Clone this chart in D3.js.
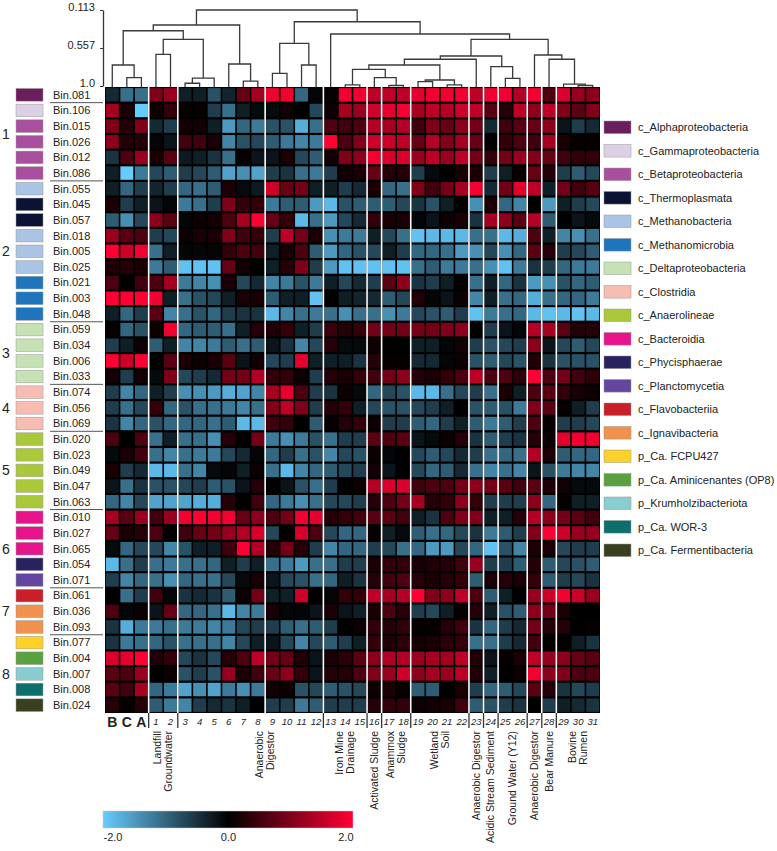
<!DOCTYPE html>
<html>
<head>
<meta charset="utf-8">
<script src="https://cdn.jsdelivr.net/npm/d3@7"></script>
<style>
  body { margin: 0; background: #fff; }
  svg { display: block; font-family: "Liberation Sans", Arial, sans-serif; }
</style>
</head>
<body>
<svg id="chart" width="777" height="851"></svg>
<script>
// columns of the heatmap (samples)
const columns = ["B","C","A","1","2","3","4","5","6","7","8","9","10","11","12","13","14","15",
  "16","17","18","19","20","21","22","23","24","25","26","27","28","29","30","31"];

// rows of the heatmap (bins)
const bins = ["Bin.081","Bin.106","Bin.015","Bin.026","Bin.012","Bin.086","Bin.055","Bin.045","Bin.057",
  "Bin.018","Bin.005","Bin.025","Bin.021","Bin.003","Bin.048","Bin.059","Bin.034","Bin.006","Bin.033",
  "Bin.074","Bin.056","Bin.069","Bin.020","Bin.023","Bin.049","Bin.047","Bin.063","Bin.010","Bin.027",
  "Bin.065","Bin.054","Bin.071","Bin.061","Bin.036","Bin.093","Bin.077","Bin.004","Bin.007","Bin.008","Bin.024"];

// taxonomy classes (legend) and colours
const classes = ["c_Alphaproteobacteria","c_Gammaproteobacteria","c_Betaproteobacteria","c_Thermoplasmata",
  "c_Methanobacteria","c_Methanomicrobia","c_Deltaproteobacteria","c_Clostridia","c_Anaerolineae",
  "c_Bacteroidia","c_Phycisphaerae","c_Planctomycetia","c_Flavobacteriia","c_Ignavibacteria",
  "p_Ca. FCPU427","p_Ca. Aminicenantes (OP8)","p_Krumholzibacteriota","p_Ca. WOR-3","p_Ca. Fermentibacteria"];
const classColors = ["#6b1d5e","#dcd0e6","#a8509f","#0b1233","#a9c4e4","#1f75bd","#c6e2b4","#f7bdb3",
  "#a9c93a","#e6138a","#28225f","#6446a0","#c8202a","#f0924d","#fcd22a","#58a040","#88cdd0","#0e6e6c","#384020"];

// class of each bin (by index into classes)
const binClass = [0,1,2,2,2,2,4,3,3,4,4,4,5,5,5,6,6,6,6,7,7,7,8,8,8,8,8,9,9,9,10,11,12,13,13,14,15,16,17,18];

// row groups (number on the left) and rules under rows
const rowGroups = [
  {label: "1", from: "Bin.081", to: "Bin.086"},
  {label: "2", from: "Bin.055", to: "Bin.048"},
  {label: "3", from: "Bin.059", to: "Bin.033"},
  {label: "4", from: "Bin.074", to: "Bin.069"},
  {label: "5", from: "Bin.020", to: "Bin.063"},
  {label: "6", from: "Bin.010", to: "Bin.071"},
  {label: "7", from: "Bin.061", to: "Bin.093"},
  {label: "8", from: "Bin.077", to: "Bin.024"}
];
const ruleAfter = ["Bin.081","Bin.086","Bin.048","Bin.033","Bin.069","Bin.063","Bin.071","Bin.093"];

// z-scores, one row per bin, columns in the order above
const values = [
  [-0.4,-1.1,-1.1, 1.0,1.2, -0.3,-0.3,-0.8,-0.35,0.8,1.3, 1.9,1.9,-1.0,-0.05, 0.05,1.9,1.9, 1.5, 1.5,1.5, 1.8,1.9,1.9,1.9, 1.5, 1.9, 1.9,1.4, 1.9, 0.6, 1.7,1.2,1.1],
  [1.3,0.2,-2.0, 0.1,0.4, 0.05,0.05,-0.6,-1.1,-0.3,-0.1, -0.1,0.15,0,-0.7, 0.1,1.3,1.2, 1.6, 1.8,1.9, 1.3,1.5,1.4,1.6, 1.5, 0.7, 0.3,1.5, 1.1, 1.5, 1.0,0.7,1.0],
  [1.0,0.3,1.0, -0.4,-0.6, 0.15,0.15,-0.3,-1.5,-1.0,-1.2, -0.8,-0.8,-1.7,-1.1, 0.6,0.5,0.6, 1.4, 1.3,1.4, 0.5,1.0,0.8,1.1, 0.9, -0.4, 0.5,0.7, 0.8, 1.1, -0.2,-0.6,-0.4],
  [1.1,0.3,0.3, -0.05,-0.2, 0.5,0.5,0.2,-1.3,-0.8,-0.7, -0.9,-1.2,-1.3,-1.2, 2.0,0.6,1.0, 1.6, 1.6,1.5, 0.8,1.4,1.0,1.3, 0.8, 0, 0.4,0.6, 0.5, 1.3, 0.2,0.05,0.05],
  [-0.5,0.6,1.2, 0.2,0.7, -0.25,-0.3,-0.5,-1.1,0.05,-0.2, -0.2,0.2,-0.7,-0.9, 0.15,1.0,1.1, 1.9, 1.7,1.7, 1.2,1.5,1.2,1.5, 0.9, 0.4, 0.9,1.2, 1.0, 0.8, 0.5,0.4,0.4],
  [-0.3,-2.0,-1.2, -0.7,-0.9, -0.6,-0.7,-0.9,-1.6,-1.4,-1.6, -0.6,-0.5,-1.1,-1.2, -0.6,0.15,0.2, 0.8, 0.3,0.3, -0.6,-0.1,0,0.2, 0.2, -0.6, -0.3,0.05, 0.8, 0.3, -0.6,-0.9,-0.7],
  [-0.3,-1.0,-0.6, -0.35,-0.6, -1.0,-1.1,-0.9,0.2,-0.1,-0.25, 1.6,0.8,0.9,-0.3, -0.3,-0.6,-0.4, 0.2, -1.0,-1.1, 1.0,0.5,0.9,1.3, 1.9, -0.4, 0.9,1.8, 1.5, -0.3, 0.9,0.5,0.7],
  [0.2,-0.6,-0.3, -0.2,-0.05, -1.2,-1.1,-0.6,1.0,0.4,0.4, -1.2,-0.9,-0.9,-1.5, -1.8,-0.8,-0.9, -0.9, -0.9,-0.7, -0.5,-0.8,-0.3,0, -1.4, 0.2, -1.0,-1.3, 0, -1.5, -0.3,-0.6,-0.7],
  [-0.9,-1.4,-0.7, 1.1,0.7, -0.05,0.1,0.15,0.6,1.3,2.0, 0.8,0.4,-1.8,-1.1, -1.5,-0.7,-0.4, 0.4, 0.2,0.2, -0.05,-0.2,0.1,0.2, -0.5, 1.3, 1.1,0.7, 1.4, -0.9, 0,-0.2,-0.1],
  [1.2,0.7,0.6, -0.6,-0.7, 0.1,0.2,0.2,1.0,0.5,0.4, -0.6,1.5,0.9,0.2, -1.4,-1.2,-1.2, -0.3, -0.7,-1.1, -1.9,-1.8,-1.8,-1.8, -1.1, -1.1, -1.8,-1.7, 0.6, -0.3, -1.3,-1.4,-1.1],
  [2.0,1.6,1.9, -1.1,-0.3, -0.05,-0.05,-0.05,0.4,0.6,0.5, -0.3,0.2,0.6,-0.9, -1.5,-1.0,-0.8, -0.7, -0.3,-0.6, -1.0,-1.0,-1.1,-1.5, -1.4, -0.7, -1.4,-1.0, 0.7, 0.3, -0.6,-0.7,-0.9],
  [0.25,0.3,0.2, -1.2,-0.9, -1.9,-1.9,-1.9,0.8,0.15,0, -0.3,0.3,1.0,-0.6, -1.5,-1.9,-1.9, -1.9, -1.9,-1.9, -1.1,-0.9,-1.2,-1.2, -1.1, -1.4, -1.9,-1.2, -0.5, -0.6, -1.0,-1.2,-1.2],
  [0.6,0,0.5, 0.6,1.3, -1.2,-1.3,-1.4,0.2,-0.7,-0.4, -1.3,-1.2,-0.8,-1.2, -0.3,-0.7,-0.4, -0.6, 0.7,1.1, -0.5,-0.6,-0.3,0.05, -1.1, -0.3, -1.0,-0.5, -1.5, -1.4, -0.8,-1.0,-0.9],
  [2.0,2.0,2.0, 1.9,-0.3, -1.1,-0.8,-0.7,-0.3,0.2,0.2, -0.9,-0.3,-0.3,-1.9, 0,-0.3,-0.35, -0.4, -0.9,-0.7, 0.25,-0.05,-0.2,0.1, -1.3, -0.3, -1.1,-1.0, -1.7, -1.1, -1.0,-1.0,-1.2],
  [-0.3,-1.0,-0.6, 0.7,-1.3, -1.1,-0.8,-1.0,-0.6,-0.5,-0.5, -1.8,-1.3,-1.1,-1.2, -1.1,-1.4,-1.1, -1.1, -1.4,-1.2, -0.7,-0.8,-0.9,-0.6, -1.9, -1.2, -1.1,-1.0, -1.8, -1.9, -1.8,-1.9,-1.8],
  [0.05,-1.0,-0.8, 0.1,1.9, -1.0,-0.9,-0.9,-1.1,-0.3,0.3, 0.25,0.4,-0.3,-0.6, 0.45,0.3,0.4, 0.9, 0.9,0.9, 0.9,0.9,1.0,1.1, 0, -0.6, -0.2,-0.05, 1.4, 1.3, 0.7,0.3,0.3],
  [-0.6,-0.3,0.1, -0.9,-0.3, -1.3,-1.3,-1.2,-0.9,-1.1,-0.9, -0.2,-0.5,-1.3,-0.7, 0.3,-0.1,-0.1, 0.1, 0,0, -0.3,-0.3,-0.05,0.15, -0.6, -0.8, -0.7,-0.6, 1.1, -0.2, -0.7,-0.9,-0.7],
  [2.0,1.6,2.0, 0,0.7, 0.2,0.1,0.2,0.7,-0.2,0.15, -0.7,-0.6,1.8,-0.3, -0.3,-0.3,-0.5, 0.3, 0.05,0.05, -0.4,-0.4,-0.05,0.1, -0.8, -0.9, -0.7,-0.8, 0.25, -0.5, -0.8,-0.8,-0.8],
  [0.15,-0.6,0.15, -0.1,1.0, -0.7,-0.6,-0.4,0.9,0.9,1.4, 0.4,0.4,0.1,-0.6, 0.3,0.2,0.4, 0.5, 0.9,1.1, 0.3,0.2,0.4,0.6, 1.5, 0.6, 0.6,0.35, 2.0, 0.6, 0.9,0.5,0.35],
  [-0.6,-1.3,-1.0, -0.3,-0.6, -1.4,-1.4,-1.5,-1.7,-1.6,-1.3, 1.3,1.8,0.6,-0.6, -0.5,0.1,-0.1, -1.0, -0.7,-0.8, -1.8,-1.8,-1.1,-0.7, -0.6, -1.1, 0.2,-0.3, 0.6, 0.7, 0.4,0.2,0.1],
  [-0.6,-1.1,-0.7, 0.4,-1.0, -0.8,-1.1,-1.1,-1.2,-1.3,-1.1, 1.0,1.5,1.0,-0.6, 0.3,0.4,-0.3, -0.7, -0.8,-0.8, -0.7,-0.6,-0.3,0, -0.8, -0.9, -0.8,-1.2, 1.0, 0.7, 0.05,-0.3,-0.6],
  [-0.5,-1.3,-1.0, -0.8,-1.0, -1.0,-1.0,-1.1,-0.9,-1.8,-1.8, 0.5,0.4,0,-0.9, 0.05,0.3,0.4, 0.1, -0.6,-0.6, -0.9,-1.0,-0.6,-0.3, -0.9, -1.2, -0.9,-0.6, 0.6, 0.05, -0.6,-0.6,-0.7],
  [0.6,0,0.6, -1.1,-0.3, -1.1,-1.1,-1.4,0.3,0,0.9, -1.2,-1.4,-1.2,-0.8, -1.1,-0.6,-0.6, 0.7, 0.6,0.7, -0.2,-0.1,0.1,0.3, -0.5, -0.9, -0.6,-0.5, 0.3, 0.1, 1.8,1.9,1.9],
  [-0.1,0.2,0.5, -1.1,-1.3, -1.1,-1.2,-1.2,-0.7,-0.4,-0.05, -1.0,-0.6,-1.1,-0.8, -1.3,-0.7,-0.8, 0.1, -0.05,0, -0.7,-0.9,-0.7,-0.4, -0.6, -1.1, -1.0,-1.1, 1.4, 0.2, -0.9,-1.0,-1.0],
  [0.2,-0.6,-0.4, -1.8,-1.8, -1.1,-1.3,-0.1,-0.05,-0.3,0.1, -1.1,-1.8,-1.3,-1.0, -0.9,-0.7,-0.6, 0.15, -0.2,0, -0.7,-1.0,-0.9,-0.4, -1.1, -1.3, -1.1,-1.3, -0.2, -0.8, -1.2,-1.3,-1.3],
  [-0.2,-1.1,-0.5, -0.8,-0.8, -0.7,-0.6,-0.9,-0.8,-0.2,0.3, 0,-0.2,-0.8,-1.1, -0.6,0,0.1, 1.4, 1.7,1.7, 0.5,0.6,0.6,0.9, 1.1, 0.9, 0.7,0.5, 0.7, 0.25, 0.15,-0.1,-0.1],
  [-1.0,-1.3,-0.7, -1.6,-1.6, -1.6,-1.7,-1.7,0.3,0,0.5, -1.0,-1.2,-1.4,-1.1, -0.7,-0.7,-0.6, 0.3, 0.6,0.9, 1.3,0.3,0.4,1.1, 0.4, -0.6, -0.6,-0.6, 1.1, -1.0, 0.05,-0.3,-0.3],
  [1.3,0.7,1.2, 0.5,1.2, 1.9,2.0,1.9,1.9,0.8,1.1, 0.6,0.9,1.9,1.8, 0.3,0.4,0.5, 0.7, 0.7,0.5, -0.3,-0.5,0.6,1.0, 1.0, -0.3, -0.3,0.3, 1.4, 1.1, 0.9,0.7,0.5],
  [0.8,0.2,0.3, 0.6,0, 0.5,0.8,0.9,1.2,1.4,1.7, -0.7,0,1.7,0.6, -0.7,-1.0,-1.0, 0.05, -0.3,-0.1, -0.9,-1.1,-1.0,-0.7, -0.5, -1.2, -0.9,-0.6, 1.0, 2.0, 1.6,1.2,1.2],
  [-0.1,-1.0,-0.7, -0.7,-1.3, -0.8,-0.3,-0.3,0.5,2.0,1.4, 0.3,0.9,0.3,-0.6, -1.3,-1.0,-1.0, -0.6, -0.7,-1.1, -1.0,-1.5,-1.5,-0.7, -1.0, -1.9, -0.8,-1.3, 0.2, 0.2, -0.7,-0.6,-0.6],
  [-1.8,-1.1,-0.6, -1.1,-1.2, -1.1,-1.1,-1.0,-0.3,-0.6,-0.3, -1.1,-1.2,-1.5,-1.1, -1.1,-0.6,-0.6, 0.2, 0.4,0.4, 0.2,0.25,0.3,0.5, 1.2, -0.6, -0.6,-0.9, 0.3, -0.9, -0.7,-0.8,-0.9],
  [-0.6,-1.3,-1.0, -1.1,-1.4, -1.0,-1.1,-1.1,-0.7,-0.1,0.2, -0.2,-0.7,-0.8,-1.1, -1.0,-0.3,-0.5, 0.3, 0.5,0.6, 0.3,0.2,0.3,0.4, -0.9, 0.2, 0.3,0.2, 0.4, -0.9, -0.6,-0.7,-0.5],
  [0,-1.1,-0.6, 0.5,-0.05, -0.5,-0.4,-0.5,-0.9,0.1,0.9, -0.3,-0.3,1.6,0, -0.05,0.4,0.4, 1.5, 1.3,1.4, 2.0,1.0,1.1,1.5, 0.6, -0.9, -0.3,0, 1.2, 1.6, 1.9,1.6,1.2],
  [0.6,-0.05,0.1, -0.2,0.8, -1.0,-1.0,-1.1,-1.8,-1.3,-1.2, 0.2,-0.05,-0.05,-0.2, 0.2,-0.2,-0.3, 0.2, 0.6,0.3, -0.6,-0.7,-0.3,0.05, 0.3, -0.3, -0.8,-0.9, 1.1, 0.9, 0.2,0,0],
  [-0.5,-1.7,-1.2, -1.2,-1.1, -1.2,-1.2,-1.3,-1.2,-0.7,-0.6, -0.6,-0.9,-1.1,-0.9, -0.6,0,0.1, 0.4, 0.3,0.4, 0.05,0.05,0.3,0.5, -0.5, -1.0, -0.6,-0.4, 0.9, 0.3, 0.3,0,0.05],
  [-0.5,-1.2,-1.1, -1.0,-0.8, -1.1,-1.1,-1.1,-1.3,-0.7,-0.3, -0.2,-0.7,-1.3,-0.7, -0.9,-0.6,-0.3, 0.4, 0.25,0.35, 0.15,0.2,0.35,0.4, -1.1, -1.1, -0.6,-0.4, 0.5, 0, 0,-0.3,-0.5],
  [1.7,1.8,2.0, 0.25,0.4, -0.7,-0.5,-0.7,0.3,0.6,1.5, 0.9,0.8,0.25,-0.2, 0.2,0.35,0.7, 1.1, 1.4,1.4, 1.2,1.3,1.3,1.5, 0.25, -0.2, 0.05,0.2, 1.5, 1.2, 1.1,0.8,0.7],
  [0.7,0.6,1.2, 0,0.1, -0.8,-0.6,-0.8,1.2,0.2,0.5, 0.8,1.1,0.4,-0.2, 0.3,0.3,0.6, 1.0, 1.2,1.6, 1.1,1.3,1.2,1.5, 0.25, -0.3, 0,0.1, 1.9, 1.1, 1.0,0.6,0.6],
  [0.7,0.5,1.3, -1.0,-1.2, -1.6,-1.4,-1.6,-1.2,-1.4,-1.2, 0.15,0.1,-0.8,-0.7, -0.9,-0.8,-0.7, 0.1, 0.2,0.05, -0.9,-0.9,0,0.2, -0.6, -1.0, -0.9,-0.7, 0.7, 0.3, -0.5,-0.7,-0.6],
  [0.3,0.05,0.3, -0.9,-1.2, -1.3,-0.6,-0.4,-0.5,-0.3,0, -0.6,-0.6,-1.2,-0.9, -0.6,-0.6,-0.6, 0.3, 0.4,0.4, 0.1,0.15,0.2,0.5, -0.9, -0.8, -0.6,-0.5, 0, -0.6, -0.3,-0.4,-0.5]
];

// column dendrogram: [left, right, height]; numbers refer to earlier merges
const merges = [
  ["C","A",0.903], ["B",0,0.755], ["1","2",0.630], ["3","4",0.968], [3,"5",0.907],
  [2,4,0.455], [1,5,0.355], ["7","8",0.942], ["6",7,0.743], [6,8,0.288],
  ["9","10",0.852], ["11","12",0.755], [10,11,0.502],
  ["14","15",0.988], ["17","18",0.994], ["16",14,0.903], [13,15,0.805],
  ["19","20",0.950], ["21","22",0.988], [17,18,0.930], [16,19,0.755], [20,"23",0.688],
  ["25","26",0.910], ["24",22,0.775], [21,23,0.650],
  ["30","31",0.994], ["29",25,0.977], ["28",26,0.688], ["27",27,0.638],
  [24,28,0.455], ["13",29,0.393], [12,30,0.250], [9,31,0.113]
];
const dendroTicks = [0.113, 0.557, 1.0];

// white separators inside the heatmap, ticks under it
const sepAfter = ["A","2","8","12","15","16","18","22","23","24","26","27","28"];
const tickAfter = ["A","2","12","15","16","18","22","23","24","26","27","28"];

// environment labels under the columns
const groupLabels = [
  {lines: ["Landfill","Groundwater"], cols: ["1","2"]},
  {lines: ["Anaerobic","Digestor"], cols: ["8","9"]},
  {lines: ["Iron Mine","Drainage"], cols: ["13","15"]},
  {lines: ["Activated Sludge"], cols: ["16","16"]},
  {lines: ["Anammox","Sludge"], cols: ["17","18"]},
  {lines: ["Wetland","Soil"], cols: ["19","22"]},
  {lines: ["Anaerobic Digestor"], cols: ["23","23"]},
  {lines: ["Acidic Stream Sediment"], cols: ["24","24"]},
  {lines: ["Ground Water (Y12)"], cols: ["25","26"]},
  {lines: ["Anaerobic Digestor"], cols: ["27","27"]},
  {lines: ["Bear Manure"], cols: ["28","28"]},
  {lines: ["Bovine","Rumen"], cols: ["29","31"]}
];

const colorTicks = [-2, 0, 2];

// ---- scales ----
const svg = d3.select("#chart");
const x = d3.scaleBand().domain(columns).range([105, 600]);
const y = d3.scaleBand().domain(bins).range([87, 713]);
const bw = x.bandwidth(), bh = y.bandwidth();
const color = d3.scaleLinear().domain([-2, 0, 2])
  .range(["#66ccff", "#000000", "#ff0033"]).clamp(true);
const dScale = d3.scaleLinear().domain([0.113, 1.0]).range([10, 86]);

// ---- heatmap ----
const [x0, x1] = x.range(), [y0, y1] = y.range();
svg.append("rect")
  .attr("x", x0).attr("y", y0)
  .attr("width", x1 - x0).attr("height", y1 - y0)
  .attr("fill", "#000");

const cells = [];
values.forEach((row, i) => row.forEach((v, j) => cells.push({bin: bins[i], col: columns[j], v})));
svg.append("g").selectAll("rect")
  .data(cells)
  .join("rect")
    .attr("x", d => x(d.col) + 0.8)
    .attr("y", d => y(d.bin) + 1.1)
    .attr("width", bw - 1.6)
    .attr("height", bh - 2.2)
    .attr("fill", d => color(d.v));

svg.append("g").selectAll("line")
  .data(sepAfter)
  .join("line")
    .attr("x1", d => x(d) + bw).attr("x2", d => x(d) + bw)
    .attr("y1", y0).attr("y2", y1)
    .attr("stroke", "#fff").attr("stroke-width", 1.6);

// ---- dendrogram ----
const dendro = svg.append("g").attr("fill", "none").attr("stroke", "#3a3a3a").attr("stroke-width", 1.3);
const nodes = [];
function nodePos(ref) {
  if (typeof ref === "number") return nodes[ref];
  return {x: x(ref) + bw / 2, y: y0};
}
merges.forEach(([a, b, h]) => {
  const A = nodePos(a), B = nodePos(b);
  const n = {x: (A.x + B.x) / 2, y: dScale(h)};
  nodes.push(n);
  dendro.append("path").attr("d", `M${A.x},${A.y}V${n.y}H${B.x}V${B.y}`);
});

svg.append("g")
  .attr("transform", "translate(103,0)")
  .call(d3.axisLeft(dScale).tickValues(dendroTicks)
    .tickFormat(d => d === 1 ? "1.0" : String(d))
    .tickSize(3).tickSizeOuter(0))
  .call(g => {
    g.attr("font-family", null).attr("font-size", 11);
    g.select(".domain").attr("stroke", "#333").attr("stroke-width", 1.3);
    g.selectAll(".tick line").attr("stroke", "#333");
    g.selectAll("text").attr("dy", "0").attr("x", -8).attr("fill", "#222");
  });

// ---- row annotations ----
const rowG = svg.append("g");
rowG.selectAll("rect")
  .data(bins)
  .join("rect")
    .attr("x", 16).attr("y", d => y(d) + 1.5)
    .attr("width", 27).attr("height", bh - 3)
    .attr("fill", (d, i) => classColors[binClass[i]])
    .attr("stroke", "#999").attr("stroke-width", 0.5);
rowG.selectAll("text")
  .data(bins)
  .join("text")
    .attr("x", 53).attr("y", d => y(d) + bh / 2)
    .attr("dy", "0.35em")
    .attr("font-size", 11).attr("fill", "#222")
    .text(d => d);
svg.append("g").selectAll("line")
  .data(ruleAfter)
  .join("line")
    .attr("x1", 50).attr("x2", 103)
    .attr("y1", d => y(d) + bh).attr("y2", d => y(d) + bh)
    .attr("stroke", "#555").attr("stroke-width", 1);
svg.append("g").selectAll("text")
  .data(rowGroups)
  .join("text")
    .attr("x", 2)
    .attr("y", d => (y(d.from) + y(d.to) + bh) / 2)
    .attr("dy", "0.35em")
    .attr("font-size", 14).attr("fill", "#222")
    .text(d => d.label);

// ---- column labels ----
svg.append("g").selectAll("text")
  .data(columns)
  .join("text")
    .attr("x", d => x(d) + bw / 2)
    .attr("y", 722)
    .attr("dy", "0.35em")
    .attr("text-anchor", "middle")
    .attr("fill", "#222")
    .attr("font-size", d => isNaN(+d) ? 14 : 9.5)
    .attr("font-weight", d => isNaN(+d) ? "bold" : null)
    .attr("font-style", d => isNaN(+d) ? null : "italic")
    .text(d => d);
svg.append("g").selectAll("line")
  .data(tickAfter)
  .join("line")
    .attr("x1", d => x(d) + bw).attr("x2", d => x(d) + bw)
    .attr("y1", y1).attr("y2", y1 + 15)
    .attr("stroke", "#333").attr("stroke-width", 1.3);

const lblG = svg.append("g").attr("font-size", 10.5).attr("fill", "#222");
groupLabels.forEach(g => {
  const cx = (x(g.cols[0]) + x(g.cols[1]) + bw) / 2;
  const n = g.lines.length;
  g.lines.forEach((t, k) => {
    lblG.append("text")
      .attr("transform", `translate(${cx + (k - (n - 1) / 2) * 11},731) rotate(-90)`)
      .attr("text-anchor", "end")
      .attr("dy", "0.35em")
      .text(t);
  });
});

// ---- colour bar ----
const cb = d3.scaleLinear().domain([-2, 2]).range([103, 353]);
const grad = svg.append("defs").append("linearGradient").attr("id", "cbar");
d3.range(-2, 2.01, 0.5).forEach(v => {
  grad.append("stop").attr("offset", `${(v + 2) / 4 * 100}%`).attr("stop-color", color(v));
});
svg.append("rect")
  .attr("x", cb.range()[0]).attr("y", 811)
  .attr("width", cb.range()[1] - cb.range()[0]).attr("height", 17)
  .attr("fill", "url(#cbar)")
  .attr("stroke", "#ccc").attr("stroke-width", 0.5);
svg.append("g")
  .attr("transform", "translate(0,828)")
  .call(d3.axisBottom(cb).tickValues(colorTicks).tickFormat(d => d.toFixed(1)).tickSize(0).tickPadding(5))
  .call(g => {
    g.attr("font-family", null).attr("font-size", 11);
    g.select(".domain").remove();
    g.selectAll("text").attr("fill", "#222")
      .attr("text-anchor", d => d === -2 ? "start" : d === 2 ? "end" : "middle");
  });

// ---- legend ----
const ly = d3.scaleLinear().domain([0, classes.length - 1]).range([127.3, 127.3 + 18 * 23.5]);
const leg = svg.append("g");
leg.selectAll("rect")
  .data(classes)
  .join("rect")
    .attr("x", 604).attr("y", (d, i) => ly(i) - 6.3)
    .attr("width", 27).attr("height", 12.6)
    .attr("fill", (d, i) => classColors[i])
    .attr("stroke", "#999").attr("stroke-width", 0.5);
leg.selectAll("text")
  .data(classes)
  .join("text")
    .attr("x", 638).attr("y", (d, i) => ly(i))
    .attr("dy", "0.35em")
    .attr("font-size", 11).attr("fill", "#222")
    .text(d => d);
</script>
</body>
</html>
